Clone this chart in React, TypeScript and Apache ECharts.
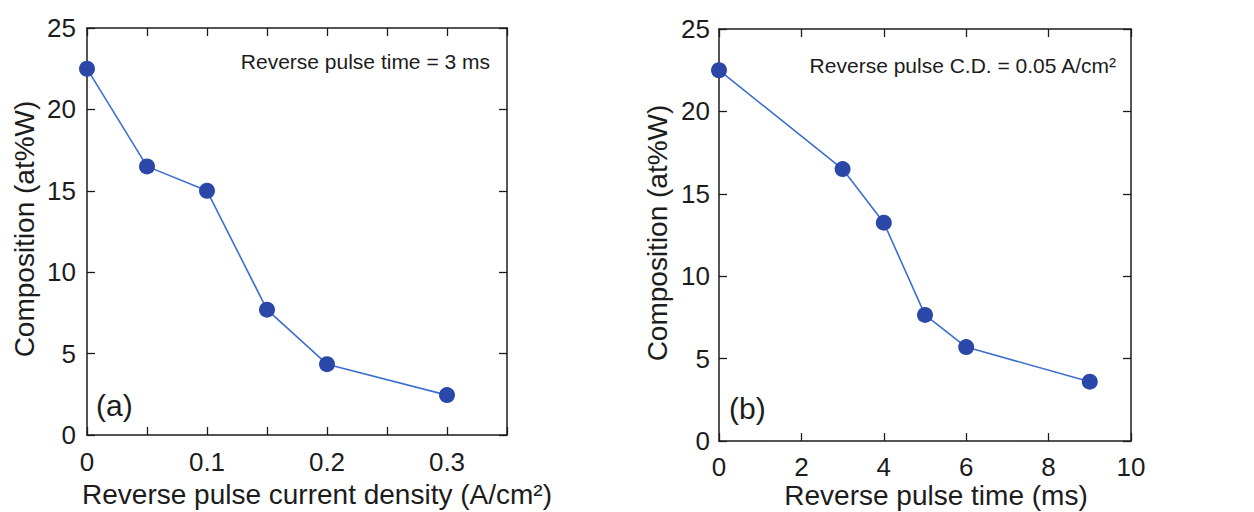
import React, { useEffect, useRef } from "react";
import * as echarts from "echarts";

const densityX = [0, 0.05, 0.1, 0.15, 0.2, 0.3];
const densityY = [22.5, 16.5, 15.0, 7.7, 4.35, 2.45];
const timeX = [0, 3, 4, 5, 6, 9];
const timeY = [22.5, 16.5, 13.25, 7.65, 5.7, 3.6];

const yTicks = [0, 5, 10, 15, 20, 25];
const densityTickStep = 0.05;
const densityLabeled = ["0", "0.1", "0.2", "0.3"];
const timeTicks = [0, 2, 4, 6, 8, 10];

const leftXTitle = "Reverse pulse current density (A/cm²)";
const rightXTitle = "Reverse pulse time (ms)";
const yTitle = "Composition (at%W)";
const leftNote = "Reverse pulse time = 3 ms";
const rightNote = "Reverse pulse C.D. = 0.05 A/cm²";

const FONT = "'Liberation Sans', Arial, Helvetica, sans-serif";
const INK = "#1c1c1c";
const MARK = "#2b48a8";
const LINE = "#3c6fd2";

export default function App() {
  const ref = useRef<HTMLDivElement>(null);
  useEffect(() => {
    if (!ref.current) return;
    const chart = echarts.init(ref.current, null, { renderer: "svg" });
    const axisLine = { show: true, onZero: false, lineStyle: { color: INK, width: 1.5 } };
    const tick = { show: true, inside: true, length: 8, lineStyle: { color: INK, width: 1.3 } };
    const lbl = { fontFamily: FONT, fontSize: 26, color: INK };
    const yMin = yTicks[0];
    const yMax = yTicks[yTicks.length - 1];
    const yStep = yTicks[1] - yTicks[0];

    const yAxisBase = (gridIndex: number, position: string, showLabel: boolean, margin: number) => ({
      type: "value",
      gridIndex,
      position,
      min: yMin,
      max: yMax,
      interval: yStep,
      axisLine,
      axisTick: tick,
      splitLine: { show: false },
      axisLabel: { show: showLabel, ...lbl, margin },
    });

    const fmtDensity = (v: number) => {
      const k = Math.round(v * 100);
      if (k % 10 !== 0) return "";
      const idx = k / 10;
      return densityLabeled[idx] ?? "";
    };

    const option: any = {
      animation: false,
      backgroundColor: "#ffffff",
      grid: [
        { left: 87, top: 28, width: 420, height: 407, containLabel: false },
        { left: 719, top: 29, width: 412, height: 412, containLabel: false },
      ],
      xAxis: [
        {
          type: "value",
          gridIndex: 0,
          position: "bottom",
          min: 0,
          max: 0.35,
          interval: densityTickStep,
          axisLine,
          axisTick: tick,
          splitLine: { show: false },
          axisLabel: { ...lbl, margin: 14, formatter: fmtDensity, showMaxLabel: true },
        },
        {
          type: "value",
          gridIndex: 0,
          position: "top",
          min: 0,
          max: 0.35,
          interval: densityTickStep,
          axisLine,
          axisTick: tick,
          splitLine: { show: false },
          axisLabel: { show: false },
        },
        {
          type: "value",
          gridIndex: 1,
          position: "bottom",
          min: timeTicks[0],
          max: timeTicks[timeTicks.length - 1],
          interval: timeTicks[1] - timeTicks[0],
          axisLine,
          axisTick: tick,
          splitLine: { show: false },
          axisLabel: { ...lbl, margin: 13 },
        },
        {
          type: "value",
          gridIndex: 1,
          position: "top",
          min: timeTicks[0],
          max: timeTicks[timeTicks.length - 1],
          interval: timeTicks[1] - timeTicks[0],
          axisLine,
          axisTick: tick,
          splitLine: { show: false },
          axisLabel: { show: false },
        },
      ],
      yAxis: [
        yAxisBase(0, "left", true, 11),
        yAxisBase(0, "right", false, 8),
        yAxisBase(1, "left", true, 9),
        yAxisBase(1, "right", false, 8),
      ],
      series: [
        {
          type: "line",
          xAxisIndex: 0,
          yAxisIndex: 0,
          data: densityX.map((x, i) => [x, densityY[i]]),
          symbol: "circle",
          symbolSize: 16,
          itemStyle: { color: MARK },
          lineStyle: { color: LINE, width: 1.6 },
        },
        {
          type: "line",
          xAxisIndex: 2,
          yAxisIndex: 2,
          data: timeX.map((x, i) => [x, timeY[i]]),
          symbol: "circle",
          symbolSize: 16,
          itemStyle: { color: MARK },
          lineStyle: { color: LINE, width: 1.6 },
        },
      ],
      graphic: [
        {
          type: "text",
          x: 317,
          y: 494,
          style: { text: leftXTitle, font: `28px ${FONT}`, fill: INK, textAlign: "center", textVerticalAlign: "middle" },
        },
        {
          type: "text",
          x: 936,
          y: 495,
          style: { text: rightXTitle, font: `28px ${FONT}`, fill: INK, textAlign: "center", textVerticalAlign: "middle" },
        },
        {
          type: "text",
          x: 24,
          y: 229,
          rotation: Math.PI / 2,
          style: { text: yTitle, font: `28px ${FONT}`, fill: INK, textAlign: "center", textVerticalAlign: "middle" },
        },
        {
          type: "text",
          x: 657,
          y: 233,
          rotation: Math.PI / 2,
          style: { text: yTitle, font: `28px ${FONT}`, fill: INK, textAlign: "center", textVerticalAlign: "middle" },
        },
        {
          type: "text",
          x: 490,
          y: 61,
          style: { text: leftNote, font: `21px ${FONT}`, fill: INK, textAlign: "right", textVerticalAlign: "middle" },
        },
        {
          type: "text",
          x: 1116,
          y: 65,
          style: { text: rightNote, font: `21px ${FONT}`, fill: INK, textAlign: "right", textVerticalAlign: "middle" },
        },
        {
          type: "text",
          x: 96,
          y: 405,
          style: { text: "(a)", font: `30px ${FONT}`, fill: INK, textAlign: "left", textVerticalAlign: "middle" },
        },
        {
          type: "text",
          x: 729,
          y: 408,
          style: { text: "(b)", font: `30px ${FONT}`, fill: INK, textAlign: "left", textVerticalAlign: "middle" },
        },
      ],
    };
    chart.setOption(option);
    return () => chart.dispose();
  }, []);
  return <div ref={ref} style={{ width: 1254, height: 512, position: "absolute", left: 0, top: 0, background: "#fff" }} />;
}
